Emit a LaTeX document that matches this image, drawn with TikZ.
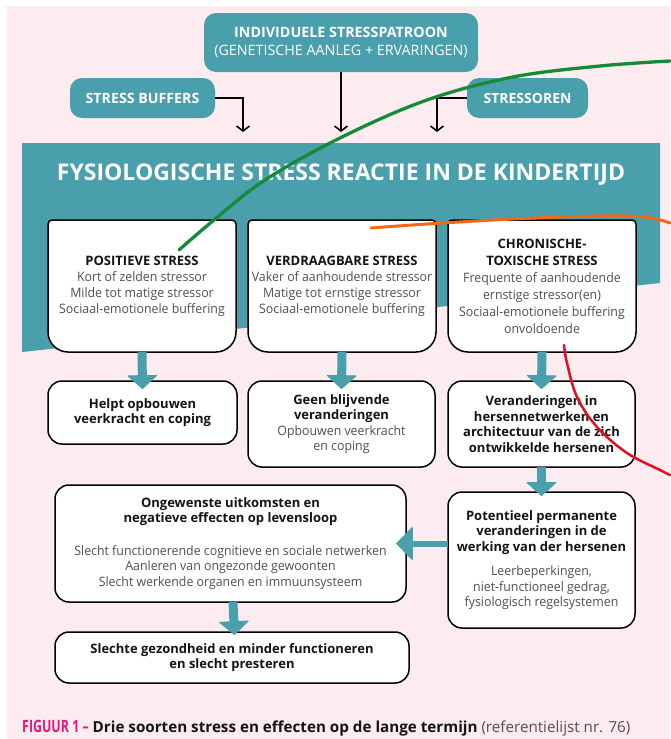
\documentclass[tikz,border=0pt]{standalone}
\usepackage{fontspec}
\setmainfont{Open Sans}
\newfontfamily\cond[FakeStretch=0.95]{Open Sans}
\newfontfamily\figfont[FakeStretch=0.73]{Open Sans}
\usetikzlibrary{arrows.meta}
\definecolor{bgpink}{RGB}{252,235,239}
\definecolor{teal1}{RGB}{74,159,173}
\definecolor{ink}{RGB}{20,20,20}
\definecolor{soft}{RGB}{80,80,80}
\definecolor{figpink}{RGB}{229,23,123}
\definecolor{ann green}{RGB}{20,140,55}
\definecolor{ann orange}{RGB}{240,105,25}
\definecolor{ann red}{RGB}{225,15,35}
\pgfdeclarelayer{back}
\pgfdeclarelayer{mid}
\pgfsetlayers{back,mid,main}
\tikzset{
  tealbox/.style={fill=teal1, rounded corners=12pt, text=white, align=center, inner sep=0pt, outer sep=0pt},
  wbox/.style={draw=black, line width=1.5pt, fill=white, rounded corners=14pt, align=center, inner sep=0pt, outer sep=0pt, text=soft, font=\cond\fontsize{13}{15.5}\selectfont},
  tbox/.style={align=center, inner sep=0pt, outer sep=0pt, text=soft, font=\cond\fontsize{13}{16}\selectfont},
  boxline/.style={draw=black, line width=1.5pt, fill=white},
  blk/.style={line width=1.6pt, -{Straight Barb[length=5pt,width=13pt]}},
  tarrow/.style={draw=teal1, line width=9pt, -{Triangle[width=31pt,length=14pt,line width=1pt,round]}},
  harrow/.style={draw=teal1, line width=6pt, -{Triangle[width=34pt,length=17pt,line width=1pt,round]}},
  ann/.style={line width=3pt, line cap=round},
}
\newcommand{\hd}[1]{{\rmfamily\bfseries\color{ink}#1}}
\newcommand{\topboxoutline}[1]{%
  \draw[boxline] ([yshift=-4pt]#1.north west) arc[start angle=180,end angle=90,radius=4pt]
    -- ([xshift=-4pt]#1.north east) arc[start angle=90,end angle=0,radius=4pt]
    -- ([yshift=20pt]#1.south east) arc[start angle=0,end angle=-90,radius=20pt]
    -- ([xshift=20pt]#1.south west) arc[start angle=270,end angle=180,radius=20pt] -- cycle;}
\begin{document}
\begin{tikzpicture}[x=1pt,y=1pt]
\useasboundingbox (0,0) rectangle (670,-739);
\begin{pgfonlayer}{back}
  \fill[bgpink] (7,-6) rectangle (670,-739);
  \fill[teal1] (22,-143) -- (660,-143) -- (660,-283) -- (22,-352) -- cycle;
\end{pgfonlayer}

% top nodes
\node[tealbox, minimum width=274pt, minimum height=59pt, font=\fontsize{14.3}{18.5}\selectfont] (indiv) at (341,-42.5)
  {\textbf{INDIVIDUELE STRESSPATROON}\\(GENETISCHE AANLEG + ERVARINGEN)};
\node[tealbox, minimum width=145pt, minimum height=40pt, font=\fontsize{14.2}{15}\selectfont\bfseries] (buffers) at (142.5,-98)
  {STRESS BUFFERS};
\node[tealbox, minimum width=121pt, minimum height=40pt, font=\fontsize{14}{15}\selectfont\bfseries] (stressoren) at (527.5,-98)
  {STRESSOREN};

\coordinate (inA) at (243,-132);
\coordinate (inB) at (341,-132);
\coordinate (inC) at (437,-132);
\draw[blk] (buffers.east) -| (inA);
\draw[blk] (indiv.south) -- (inB);
\draw[blk] (stressoren.west) -| (inC);

\node[text=white, font=\fontsize{23}{27}\selectfont\bfseries] (title) at (341,-175)
  {FYSIOLOGISCHE STRESS REACTIE IN DE KINDERTIJD};

% row 1
\node[tbox, minimum width=188pt, minimum height=132pt] (b1) at (142,-286)
  {\hd{POSITIEVE STRESS}\\Kort of zelden stressor\\Milde tot matige stressor\\Sociaal-emotionele buffering};
\node[tbox, minimum width=188pt, minimum height=132pt] (b2) at (342,-286)
  {\hd{VERDRAAGBARE STRESS}\\Vaker of aanhoudende stressor\\Matige tot ernstige stressor\\Sociaal-emotionele buffering};
\node[tbox, minimum width=188pt, minimum height=132pt, font=\cond\fontsize{13}{17}\selectfont] (b3) at (542,-286)
  {\hd{CHRONISCHE-}\\\hd{TOXISCHE STRESS}\\Frequente of aanhoudende\\ernstige stressor(en)\\Sociaal-emotionele buffering\\onvoldoende};
\begin{pgfonlayer}{mid}
  \topboxoutline{b1}
  \topboxoutline{b2}
  \topboxoutline{b3}
\end{pgfonlayer}

% row 2
\node[wbox, minimum width=189pt, minimum height=63pt] (b4) at (142.5,-412.5)
  {\hd{Helpt opbouwen}\\\hd{veerkracht en coping}};
\node[wbox, minimum width=187pt, minimum height=86pt] (b5) at (341.5,-424)
  {\hd{Geen blijvende}\\\hd{veranderingen}\\Opbouwen veerkracht\\en coping};
\node[wbox, minimum width=187pt, minimum height=86pt] (b6) at (541.5,-424)
  {\hd{Veranderingen in}\\\hd{hersennetwerken en}\\\hd{architectuur van de zich}\\\hd{ontwikkelde hersenen}};

% row 3
\node[wbox, minimum width=187pt, minimum height=136pt] (b7) at (541.5,-560)
  {\hd{Potentieel permanente}\\\hd{veranderingen in de}\\\hd{werking van der hersenen}\\[9pt]Leerbeperkingen,\\niet-functioneel gedrag,\\fysiologisch regelsystemen};
\node[wbox, minimum width=351pt, minimum height=117pt] (b8) at (230.5,-543.5)
  {\hd{Ongewenste uitkomsten en}\\\hd{negatieve effecten op levensloop}\\[17pt]Slecht functionerende cognitieve en sociale netwerken\\Aanleren van ongezonde gewoonten\\Slecht werkende organen en immuunsysteem};
\node[wbox, minimum width=354pt, minimum height=51pt] (b9) at (232,-657.5)
  {\hd{Slechte gezondheid en minder functioneren}\\\hd{en slecht presteren}};

% teal arrows
\draw[tarrow] (b1.south) -- ([yshift=-8pt]b4.north);
\draw[tarrow] (b2.south) -- ([yshift=-8pt]b5.north);
\draw[tarrow] (b3.south) -- ([yshift=-8pt]b6.north);
\draw[tarrow] (b6.south) -- ([yshift=-4pt]b7.north);
\draw[tarrow] ([xshift=2.5pt]b8.south) -- ([xshift=2.5pt,yshift=-3pt]b9.north);
\draw[harrow] (b7.west |- b8.east) -- ([xshift=-10pt]b8.east);

% caption
\node[anchor=base west, inner sep=0pt, text=ink, font=\fontsize{15.2}{17}\selectfont] (caption) at (22,-732)
  {{\figfont\fontsize{17}{17}\selectfont\bfseries\color{figpink}FIGUUR 1 –} {\bfseries Drie soorten stress en effecten op de lange termijn} {\color{soft}(referentielijst nr. 76)}};

% hand-drawn annotations
\draw[ann, ann green, line width=3.3pt] plot[smooth, tension=0.6] coordinates {(179,-250) (214,-220) (265,-180) (342,-137) (427,-100) (513,-77) (600,-66) (670,-61)};
\draw[ann, ann orange] plot[smooth, tension=0.6] coordinates {(371,-228) (427,-224) (513,-219) (598,-216) (645,-217) (670,-223)};
\draw[ann, ann red, line width=2.5pt] plot[smooth, tension=0.6] coordinates {(564,-345) (567,-363) (577,-397) (597,-427) (627,-453) (660,-470) (670,-475)};
\end{tikzpicture}
\end{document}
